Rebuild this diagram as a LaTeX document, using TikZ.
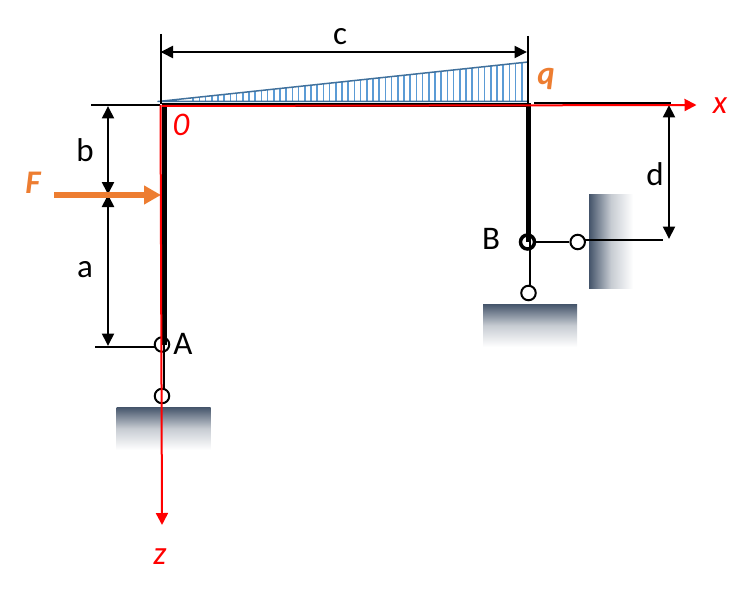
\documentclass[tikz,border=0pt]{standalone}
\usepackage{fontspec}
\setmainfont{Carlito}
\usetikzlibrary{arrows.meta}
\definecolor{slate}{HTML}{44546A}
\definecolor{orng}{HTML}{ED7D31}
\definecolor{hatch}{HTML}{5B9BD5}
\definecolor{hatchedge}{HTML}{41719C}
\pgfdeclareverticalshading{gfade}{100bp}{color(0bp)=(white); color(25bp)=(white); color(50bp)=(slate!30!white); color(75bp)=(slate); color(100bp)=(slate)}
\tikzset{
  dimline/.style={black,line width=2pt,{Triangle[length=12.5pt,width=12pt]}-{Triangle[length=12.5pt,width=12pt]}},
  thinline/.style={black,line width=2pt},
  member/.style={black,line width=5pt},
  beam/.style={black,line width=4pt},
  axisline/.style={red,line width=2pt,-{Triangle[length=12pt,width=12pt]}},
  hinge/.style={circle,draw=black,line width=2pt,fill=none,minimum size=14.5pt,inner sep=0pt},
  label/.style={inner sep=0pt,font=\fontsize{33}{34}\selectfont},
  redlabel/.style={label,text=red,font=\fontsize{33}{34}\selectfont\itshape},
  orangelabel/.style={label,text=orng,font=\fontsize{33}{34}\selectfont\bfseries\itshape},
  ground/.style={inner sep=0pt,minimum width=94pt,minimum height=43pt,shading=gfade,draw=none},
  wallshade/.style={inner sep=0pt,minimum width=44pt,minimum height=94pt,shading=gfade,shading angle=90,draw=none}
}
\begin{document}
\begin{tikzpicture}[x=1pt,y=-1pt]
\useasboundingbox (0,0) rectangle (752,599);
% supports
\node[ground] (gA) at (163.5,428.5) {};
\node[ground] (gB) at (530,325.5) {};
\node[wallshade] (wall) at (611,241) {};
% key points
\coordinate (O) at (160.5,105);
\coordinate (Ox) at (162,106);
\coordinate (C) at (530.5,105.5);
\coordinate (Bm) at (162,105.5);
\coordinate (Atop) at (164.2,105);
\coordinate (Abot) at (164.2,345);
\coordinate (Btop) at (528.3,105);
\coordinate (Bbot) at (528.3,242);
\coordinate (Xend) at (696.5,105);
\coordinate (Zend) at (162,525);
% wedge load
\coordinate (q0) at (158,101.5);
\coordinate (q1) at (528,62);
\coordinate (q2) at (528,101.5);
\foreach \k in {1,...,54}{
  \pgfmathsetmacro{\xx}{528-6.2*\k}
  \pgfmathsetmacro{\yy}{101.5-39.5*(\xx-158)/370}
  \draw[hatch,line width=1.7pt] (\xx,101.5) -- (\xx,\yy);
}
\draw[hatchedge,line width=1.5pt,line join=round] (q0) -- (q1) -- (q2) -- cycle;
% hinges
\node[hinge] (A) at (162,344.5) {};
\node[hinge] (A2) at (162,396) {};
\node[hinge,line width=3.5pt,minimum size=14pt] (B) at (527.5,242) {};
\node[hinge] (B2) at (577.7,242) {};
\node[hinge] (B3) at (528.5,293) {};
% frame
\draw[member] (Atop) -- (Abot);
\draw[beam] (Bm) -- (C);
\draw[member] (Btop) -- (Bbot);
% links
\coordinate (Al) at (163.5,345);
\coordinate (Al2) at (163.5,388.5);
\coordinate (Bl) at (529.7,242);
\coordinate (Bl2) at (529.7,285.5);
\draw[thinline] (Al) -- (Al2);
\draw[thinline] (B) -- (B2);
\draw[thinline] (Bl) -- (Bl2);
% extension lines
\coordinate (e1) at (91,104.7);
\coordinate (e2) at (160,104.7);
\coordinate (e3) at (534,102.7);
\coordinate (e4) at (671,102.7);
\coordinate (e5) at (95,346.7);
\coordinate (e5b) at (154.5,346.7);
\coordinate (e6b) at (585,240);
\coordinate (e6) at (663,240);
\coordinate (c1) at (161,34);
\coordinate (c2) at (161,104);
\coordinate (c3) at (528,36);
\coordinate (c4) at (528,103);
\draw[thinline] (e1) -- (e2);
\draw[thinline] (e3) -- (e4);
\draw[thinline] (e5) -- (e5b);
\draw[thinline] (e6b) -- (e6);
\draw[thinline] (c1) -- (c2);
\draw[thinline] (c3) -- (c4);
% dimensions
\coordinate (d1) at (160.5,52);
\coordinate (d2) at (527,52);
\coordinate (b1) at (108,106);
\coordinate (b2) at (108,194.5);
\coordinate (a2) at (108,346);
\coordinate (d3) at (669,105);
\coordinate (d4) at (669,239);
\draw[dimline] (d1) -- (d2);
\draw[dimline] (b1) -- (b2);
\draw[dimline] (b2) -- (a2);
\draw[dimline] (d3) -- (d4);
% force
\coordinate (F0) at (54,195);
\coordinate (F1) at (161,195);
\draw[orng,line width=5.5pt,-{Triangle[length=17pt,width=18pt]}] (F0) -- (F1);
% axes
\draw[axisline] (Ox) -- (Xend);
\draw[axisline] (O) -- (Zend);
% text
\node[label] (lc) at (340,37) {c};
\node[label] (lb) at (85,150) {b};
\node[label] (la) at (85,270) {a};
\node[label] (ld) at (655,174) {d};
\node[label] (lA) at (183,344) {A};
\node[label] (lB) at (491,239) {B};
\node[orangelabel] (lF) at (33,183) {F};
\node[orangelabel] (lq) at (546,79) {q};
\node[redlabel] (l0) at (181,125) {0};
\node[redlabel] (lx) at (720,106) {x};
\node[redlabel] (lz) at (160,557) {z};
\end{tikzpicture}
\end{document}
